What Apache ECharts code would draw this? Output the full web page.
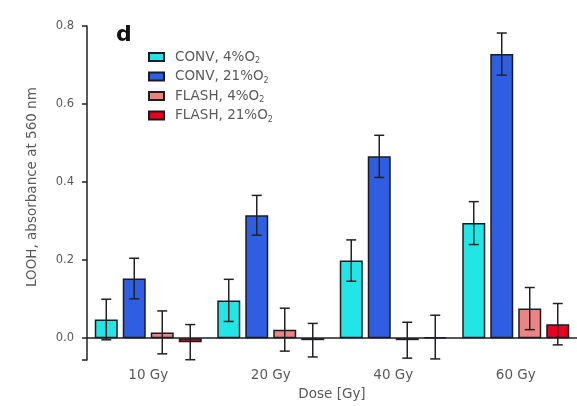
<!DOCTYPE html>
<html>
<head>
<meta charset="utf-8">
<script src="https://cdn.jsdelivr.net/npm/echarts@6/dist/echarts.min.js"></script>
<style>html,body{margin:0;padding:0;background:#fff}#c{width:577px;height:406px}</style>
</head>
<body>
<div id="c"></div>
<script>
const categories = ['10 Gy', '20 Gy', '40 Gy', '60 Gy'];
const seriesNames = ['CONV, 4%O', 'CONV, 21%O', 'FLASH, 4%O', 'FLASH, 21%O'];
const conv4 = [0.048, 0.097, 0.199, 0.295];
const conv21 = [0.153, 0.315, 0.466, 0.728];
const flash4 = [0.015, 0.022, -0.005, 0.076];
const flash21 = [-0.010, -0.005, 0.003, 0.036];
const conv4Err = [0.052, 0.054, 0.053, 0.055];
const conv21Err = [0.052, 0.051, 0.054, 0.054];
const flash4Err = [0.055, 0.055, 0.046, 0.054];
const flash21Err = [0.045, 0.043, 0.056, 0.053];
const yTicks = [0, 0.2, 0.4, 0.6, 0.8];

const values = [conv4, conv21, flash4, flash21];
const errs = [conv4Err, conv21Err, flash4Err, flash21Err];
const colors = ['#22E6E6', '#2F5EE3', '#EC8484', '#E8001C'];
const BW = 23, STEP = 28;

const chart = echarts.init(document.getElementById('c'), null, {renderer: 'canvas'});

const series = [];
values.forEach((v, i) => {
  series.push({
    name: seriesNames[i], type: 'bar', data: v, barWidth: BW, barGap: '21.7%',
    itemStyle: {color: colors[i], borderColor: '#1b1b22', borderWidth: 1.5},
    z: 2
  });
});
values.forEach((v, i) => {
  series.push({
    type: 'custom', z: 5, silent: true,
    data: v.map((val, k) => [k, val - errs[i][k], val + errs[i][k]]),
    renderItem: function (params, api) {
      const lo = api.coord([api.value(0), api.value(1)]);
      const hi = api.coord([api.value(0), api.value(2)]);
      const x = lo[0] + (i - 1.5) * STEP;
      const cap = 5;
      const st = {stroke: '#222', lineWidth: 1.5};
      return {type: 'group', children: [
        {type: 'line', shape: {x1: x, y1: lo[1], x2: x, y2: hi[1]}, style: st},
        {type: 'line', shape: {x1: x - cap, y1: lo[1], x2: x + cap, y2: lo[1]}, style: st},
        {type: 'line', shape: {x1: x - cap, y1: hi[1], x2: x + cap, y2: hi[1]}, style: st}
      ]};
    }
  });
});

const sub = {sub: {fontSize: 8, color: '#5a5a5a', verticalAlign: 'bottom', padding: [8, 0, 0, 0]}};

chart.setOption({
  animation: false,
  textStyle: {fontFamily: 'DejaVu Sans'},
  grid: {left: 87, right: 0, top: 26, bottom: 44},
  legend: {
    data: seriesNames, orient: 'vertical', left: 143, top: 45,
    itemWidth: 15, itemHeight: 8, itemGap: 4.5, icon: 'rect',
    textStyle: {fontSize: 13.5, color: '#5a5a5a', rich: sub, padding: [0, 0, 0, 6]},
    formatter: n => n + '{sub|2}'
  },
  graphic: [{type: 'text', left: 116, top: 24, style: {text: 'd', font: 'bold 22px DejaVu Sans', fill: '#111'}}],
  xAxis: {
    type: 'category', data: categories,
    name: 'Dose [Gy]', nameLocation: 'middle', nameGap: 23,
    nameTextStyle: {fontSize: 13.5, color: '#5a5a5a'},
    axisLine: {lineStyle: {color: '#222', width: 1.5}},
    axisTick: {length: 6, lineStyle: {color: '#222', width: 2}},
    axisLabel: {fontSize: 13.5, color: '#5a5a5a', margin: 8}
  },
  yAxis: {
    type: 'value', min: -0.056, max: 0.8, splitNumber: 4,
    name: 'LOOH, absorbance at 560 nm', nameLocation: 'middle', nameGap: 48,
    nameTextStyle: {fontSize: 13.5, color: '#5a5a5a', padding: [0, 0, 0, 12]},
    axisLine: {show: true, lineStyle: {color: '#222', width: 1.5}},
    axisTick: {show: true, length: 5, lineStyle: {color: '#222', width: 1.5}},
    splitLine: {show: false},
    axisLabel: {
      fontSize: 11.5, color: '#5a5a5a', margin: 13,
      formatter: v => yTicks.some(t => Math.abs(t - v) < 1e-6) ? v.toFixed(1) : ''
    }
  },
  series: series
});
</script>
</body>
</html>
